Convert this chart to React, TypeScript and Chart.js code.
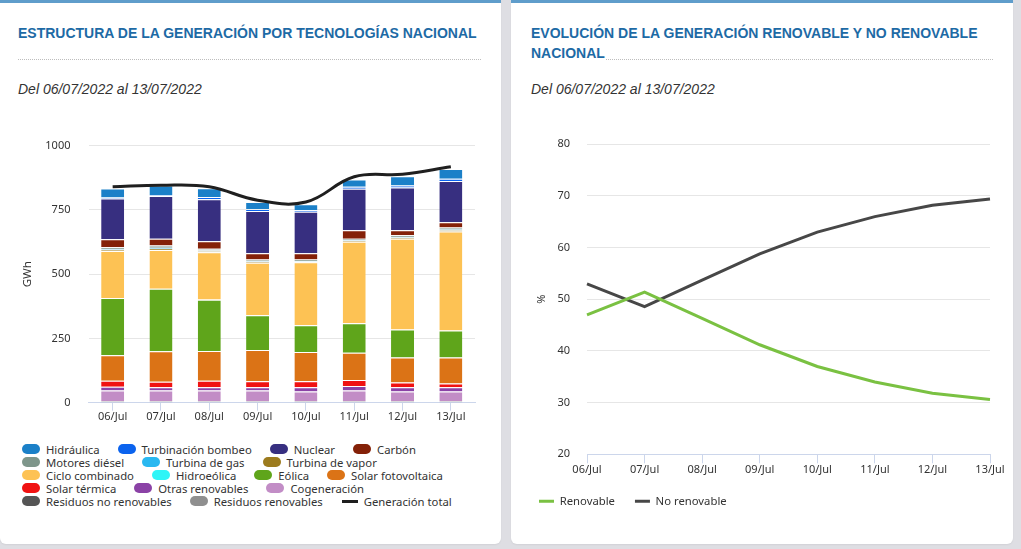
import React, { useEffect, useRef } from "react";
import { Chart, registerables } from "chart.js";

Chart.register(...registerables);

// ---------- data ----------
const dias = ["06/Jul", "07/Jul", "08/Jul", "09/Jul", "10/Jul", "11/Jul", "12/Jul", "13/Jul"];

const hidraulica = [35, 38, 34, 28, 23, 28, 36, 38];
const turbinacionBombeo = [4, 3, 8, 7, 6, 8, 8, 8];
const nuclear = [158, 166, 164, 165, 162, 161, 166, 161];
const carbon = [31, 26, 29, 24, 24, 33, 20, 20];
const motoresDiesel = [8, 9, 7, 7, 6, 6, 7, 8];
const turbinaGas = [3, 4, 3, 2, 2, 2, 2, 3];
const turbinaVapor = [4, 5, 4, 4, 3, 4, 4, 5];
const cicloCombinado = [183, 151, 184, 204, 245, 317, 353, 385];
const hidroeolica = [0.1, 0.1, 0.1, 0.1, 0.1, 0.1, 0.1, 0.1];
const eolica = [222, 243, 200, 135, 104, 115, 109, 105];
const solarFotovoltaica = [100, 118, 116, 122, 114, 106, 97, 101];
const solarTermica = [23, 22, 25, 23, 23, 23, 19, 15];
const otrasRenovables = [15, 13, 13, 13, 16, 18, 16, 16];
const cogeneracion = [41, 41, 41, 41, 38, 41, 38, 38];
const residuosNoRenovables = [4, 4, 4, 4, 4, 4, 4, 4];
const residuosRenovables = [2, 2, 2, 2, 2, 2, 2, 2];
const generacionTotal = [840, 846, 840, 788, 781, 879, 889, 918];

const renovable = [47.0, 51.4, 46.3, 41.2, 37.0, 34.0, 31.8, 30.6];
const noRenovable = [53.0, 48.6, 53.7, 58.8, 63.0, 66.0, 68.2, 69.4];

const gwhRange = [0, 1000];
const gwhStep = 250;
const pctRange = [20, 80];
const pctStep = 10;

// legend order (top of stack first)
const tecnologias = [
  { label: "Hidráulica", color: "#1b80c8", data: hidraulica },
  { label: "Turbinación bombeo", color: "#0b63ee", data: turbinacionBombeo },
  { label: "Nuclear", color: "#372f80", data: nuclear },
  { label: "Carbón", color: "#842108", data: carbon },
  { label: "Motores diésel", color: "#7e968b", data: motoresDiesel },
  { label: "Turbina de gas", color: "#2ab8f0", data: turbinaGas },
  { label: "Turbina de vapor", color: "#9c7b1e", data: turbinaVapor },
  { label: "Ciclo combinado", color: "#fdc254", data: cicloCombinado },
  { label: "Hidroeólica", color: "#2ef5f7", data: hidroeolica },
  { label: "Eólica", color: "#5fa51b", data: eolica },
  { label: "Solar fotovoltaica", color: "#db7316", data: solarFotovoltaica },
  { label: "Solar térmica", color: "#f01212", data: solarTermica },
  { label: "Otras renovables", color: "#8b42a6", data: otrasRenovables },
  { label: "Cogeneración", color: "#c28dc6", data: cogeneracion },
  { label: "Residuos no renovables", color: "#555555", data: residuosNoRenovables },
  { label: "Residuos renovables", color: "#8f8f8f", data: residuosRenovables },
];
const totalLabel = "Generación total";
const totalColor = "#1f1f1f";

const FONT = "'Noto Sans', 'DejaVu Sans', sans-serif";
const TITLE_FONT = "'Liberation Sans', Arial, Helvetica, sans-serif";
const TEXT = "#333333";

Chart.defaults.font.family = FONT;

function BarChart() {
  const ref = useRef<HTMLCanvasElement | null>(null);
  useEffect(() => {
    if (!ref.current) return;
    const bars = tecnologias
      .slice()
      .reverse()
      .map((t) => ({
        type: "bar" as const,
        label: t.label,
        data: t.data,
        backgroundColor: t.color,
        borderColor: "#ffffff",
        borderWidth: { top: 1, right: 0, bottom: 0, left: 0 },
        borderSkipped: false as const,
        categoryPercentage: 1,
        barPercentage: 0.476,
        order: 1,
      }));
    const chart = new Chart(ref.current, {
      type: "bar",
      data: {
        labels: dias,
        datasets: [
          ...bars,
          {
            type: "line" as const,
            label: totalLabel,
            data: generacionTotal,
            borderColor: totalColor,
            backgroundColor: totalColor,
            borderWidth: 3,
            pointRadius: 0,
            tension: 0.4,
            stack: "total",
            order: 0,
          } as any,
        ],
      },
      options: {
        animation: false,
        responsive: true,
        maintainAspectRatio: false,
        layout: { padding: { left: 0, right: 26, top: 15.7, bottom: 0 } },
        plugins: { legend: { display: false }, tooltip: { enabled: false } },
        scales: {
          x: {
            stacked: true,
            offset: true,
            grid: {
              display: true,
              drawOnChartArea: false,
              drawTicks: true,
              tickLength: 8,
              color: "#ccd6eb",
              offset: false,
            },
            border: { display: true, color: "#ccd6eb", width: 1 },
            ticks: {
              color: TEXT,
              font: { family: FONT, size: 11 },
              padding: 0,
              maxRotation: 0,
              autoSkip: false,
            },
            afterFit: (s: any) => {
              s.height = 27.3;
            },
          },
          y: {
            stacked: true,
            min: gwhRange[0],
            max: gwhRange[1],
            ticks: {
              stepSize: gwhStep,
              color: TEXT,
              font: { family: FONT, size: 11 },
              padding: 3,
              callback: (v: any) => String(v),
            },
            grid: { color: "#e6e6e6", drawTicks: true, tickLength: 15, tickColor: "rgba(0,0,0,0)" },
            border: { display: false },
            title: {
              display: true,
              text: "GWh",
              color: TEXT,
              font: { family: FONT, size: 11.5 },
              padding: { top: 20.8, bottom: 0 },
            },
            afterFit: (s: any) => {
              s.width = 88.5;
            },
          },
        },
      } as any,
    });
    return () => chart.destroy();
  }, []);
  return <canvas ref={ref} />;
}

function LineChart() {
  const ref = useRef<HTMLCanvasElement | null>(null);
  useEffect(() => {
    if (!ref.current) return;
    const chart = new Chart(ref.current, {
      type: "line",
      data: {
        labels: dias,
        datasets: [
          {
            label: "Renovable",
            data: renovable,
            borderColor: "#7ac142",
            backgroundColor: "#7ac142",
            borderWidth: 3,
            pointRadius: 0,
            tension: 0,
          },
          {
            label: "No renovable",
            data: noRenovable,
            borderColor: "#474747",
            backgroundColor: "#474747",
            borderWidth: 3,
            pointRadius: 0,
            tension: 0,
          },
        ],
      },
      options: {
        animation: false,
        responsive: true,
        maintainAspectRatio: false,
        layout: { padding: { left: 8, right: 23, top: 14.3, bottom: 0 } },
        plugins: {
          tooltip: { enabled: false },
          legend: {
            display: true,
            position: "bottom",
            align: "start",
            labels: {
              usePointStyle: true,
              pointStyle: "line",
              pointStyleWidth: 15,
              padding: 20,
              color: TEXT,
              font: { family: FONT, size: 11.3 },
            },
          },
        },
        scales: {
          x: {
            offset: false,
            grid: {
              display: true,
              drawOnChartArea: false,
              drawTicks: true,
              tickLength: 9,
              color: "#ccd6eb",
            },
            border: { display: true, color: "#ccd6eb", width: 1 },
            ticks: {
              color: TEXT,
              font: { family: FONT, size: 11 },
              padding: 0,
              maxRotation: 0,
              autoSkip: false,
            },
            afterFit: (s: any) => {
              s.height = 21.4;
            },
          },
          y: {
            min: pctRange[0],
            max: pctRange[1],
            ticks: {
              stepSize: pctStep,
              color: TEXT,
              font: { family: FONT, size: 11 },
              padding: 3,
              callback: (v: any) => String(v),
            },
            grid: { color: "#e6e6e6", drawTicks: true, tickLength: 14, tickColor: "rgba(0,0,0,0)" },
            border: { display: false },
            title: {
              display: true,
              text: "%",
              color: TEXT,
              font: { family: FONT, size: 11 },
              padding: { top: 16, bottom: 0 },
            },
            afterFit: (s: any) => {
              s.width = 68;
            },
          },
        },
      } as any,
    });
    return () => chart.destroy();
  }, []);
  return <canvas ref={ref} />;
}

const cardStyle = (left: number, width: number): React.CSSProperties => ({
  position: "absolute",
  left,
  top: 0,
  width,
  height: 544,
  background: "#ffffff",
  borderRadius: "0 0 6px 6px",
  boxShadow: "0 1px 2px rgba(0,0,0,0.06)",
  overflow: "hidden",
});

const stripStyle: React.CSSProperties = {
  position: "absolute",
  left: 0,
  top: 0,
  right: 0,
  height: 3,
  background: "#5f9dcb",
};

const titleStyle = (left: number): React.CSSProperties => ({
  position: "absolute",
  left,
  top: 23,
  width: 470,
  fontFamily: TITLE_FONT,
  fontWeight: "bold",
  fontSize: 14,
  lineHeight: "20px",
  color: "#1d6aa5",
});

const dotStyle = (left: number, width: number): React.CSSProperties => ({
  position: "absolute",
  left,
  top: 59,
  width,
  height: 0,
  borderTop: "1px dotted #bdbdbd",
});

const subStyle = (left: number): React.CSSProperties => ({
  position: "absolute",
  left,
  top: 79,
  fontFamily: TITLE_FONT,
  fontStyle: "italic",
  fontSize: 14,
  lineHeight: "20px",
  color: "#333333",
});

function Legend() {
  return (
    <div
      style={{
        position: "absolute",
        left: 22,
        top: 442.5,
        width: 470,
        display: "flex",
        flexWrap: "wrap",
        columnGap: 18,
        fontFamily: FONT,
        fontSize: 11.3,
        color: TEXT,
      }}
    >
      {tecnologias.map((t) => (
        <div key={t.label} style={{ display: "flex", alignItems: "center", height: 13, whiteSpace: "nowrap" }}>
          <div style={{ width: 18, height: 10, borderRadius: 5, background: t.color, marginRight: 6 }} />
          <span>{t.label}</span>
        </div>
      ))}
      <div style={{ display: "flex", alignItems: "center", height: 13, whiteSpace: "nowrap" }}>
        <div style={{ width: 18, height: 10, marginRight: 5, display: "flex", alignItems: "center", justifyContent: "center" }}>
          <div style={{ width: 16, height: 3, background: totalColor }} />
        </div>
        <span>{totalLabel}</span>
      </div>
    </div>
  );
}

export default function App() {
  return (
    <div
      style={{
        position: "absolute",
        left: 0,
        top: 0,
        width: 1021,
        height: 549,
        background: "#dedee3",
        overflow: "hidden",
      }}
    >
      <div style={cardStyle(0, 501)}>
        <div style={stripStyle} />
        <div style={dotStyle(18, 463)} />
        <div style={titleStyle(18)}>
          <span style={{ background: "#fff" }}>ESTRUCTURA DE LA GENERACIÓN POR TECNOLOGÍAS NACIONAL</span>
        </div>
        <div style={subStyle(18)}>Del 06/07/2022 al 13/07/2022</div>
        <div style={{ position: "absolute", left: 0, top: 130, width: 501, height: 300 }}>
          <BarChart />
        </div>
        <Legend />
      </div>
      <div style={cardStyle(511, 502)}>
        <div style={stripStyle} />
        <div style={dotStyle(20, 462)} />
        <div style={titleStyle(20)}>
          <span style={{ background: "#fff" }}>EVOLUCIÓN DE LA GENERACIÓN RENOVABLE Y NO RENOVABLE NACIONAL</span>
        </div>
        <div style={subStyle(20)}>Del 06/07/2022 al 13/07/2022</div>
        <div style={{ position: "absolute", left: 0, top: 130, width: 502, height: 387 }}>
          <LineChart />
        </div>
      </div>
    </div>
  );
}
